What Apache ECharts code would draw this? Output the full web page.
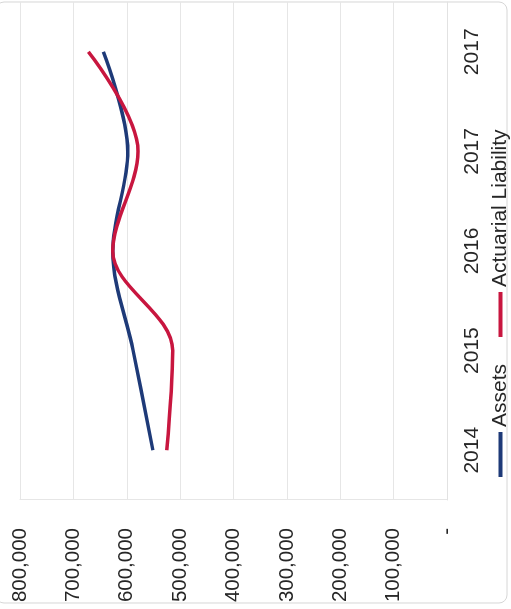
<!DOCTYPE html>
<html>
<head>
<meta charset="utf-8">
<script src="https://cdn.jsdelivr.net/npm/echarts@6/dist/echarts.min.js"></script>
<style>
  html, body { margin: 0; padding: 0; background: #ffffff; overflow: hidden; }
  #wrap { position: absolute; left: 0; top: 0; width: 511px; height: 609px; overflow: hidden; }
  #chart {
    position: absolute; left: 0; top: 0; width: 609px; height: 511px;
    transform-origin: 0 0; transform: translate(0px, 609px) rotate(-90deg);
  }
</style>
</head>
<body>
<div id="wrap"><div id="chart"></div></div>
<script>
const categories = ['2014', '2015', '2016', '2017', '2017'];
const assets = [551000, 588000, 626000, 598000, 644000];
const liability = [525000, 514000, 626000, 579000, 672000];
const valueTicks = [0, 100000, 200000, 300000, 400000, 500000, 600000, 700000, 800000];
const seriesNames = ['Assets', 'Actuarial Liability'];

const chart = echarts.init(document.getElementById('chart'), null, { renderer: 'canvas' });
const font = 'Liberation Sans';
const textColor = '#262626';
chart.setOption({
  animation: false,
  backgroundColor: '#ffffff',
  color: ['#1e3a78', '#c8163f'],
  grid: { left: 109, right: 2, top: 20, bottom: 64 },
  graphic: [{
    type: 'rect',
    shape: { x: 6, y: -4, width: 601, height: 511, r: 8 },
    style: { fill: 'none', stroke: '#d6d6d6', lineWidth: 1 },
    silent: true
  }],
  legend: {
    data: seriesNames,
    left: 132, top: 490, padding: 0,
    icon: 'rect', itemWidth: 45, itemHeight: 4, itemGap: 27,
    textStyle: { fontFamily: font, fontSize: 21, color: textColor }
  },
  xAxis: {
    type: 'category',
    data: categories,
    boundaryGap: true,
    axisLine: { show: true, lineStyle: { color: '#e2e2e2', width: 1 } },
    axisTick: { show: false },
    axisLabel: { fontFamily: font, fontSize: 21, color: textColor, margin: 15, interval: 0 }
  },
  yAxis: {
    type: 'value',
    min: valueTicks[0], max: valueTicks[valueTicks.length - 1], interval: 100000,
    axisLine: { show: true, lineStyle: { color: '#e6e6e6' } },
    axisTick: { show: false },
    splitLine: { lineStyle: { color: '#e6e6e6', width: 1 } },
    axisLabel: {
      fontFamily: font, fontSize: 20.5, color: textColor, margin: 28,
      formatter: v => v === 0 ? '-' : v.toLocaleString('en-US')
    }
  },
  series: [
    { name: seriesNames[0], type: 'line', data: assets, smooth: 0.35, showSymbol: false,
      lineStyle: { width: 3.5, color: '#1e3a78' }, itemStyle: { color: '#1e3a78' } },
    { name: seriesNames[1], type: 'line', data: liability, smooth: 0.35, showSymbol: false,
      lineStyle: { width: 3.5, color: '#c8163f' }, itemStyle: { color: '#c8163f' } }
  ]
});
</script>
</body>
</html>
